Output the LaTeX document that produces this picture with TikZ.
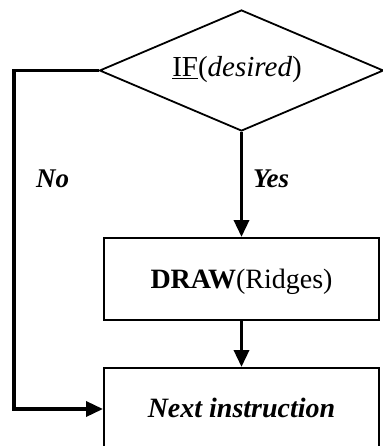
\documentclass[tikz,border=0pt]{standalone}
\usepackage{fontspec}
\setmainfont{Liberation Serif}
\usetikzlibrary{shapes.geometric,arrows.meta}
\begin{document}
\begin{tikzpicture}[x=1pt,y=-1pt,
  decision/.style={diamond,draw,line width=1.8pt,minimum width=284pt,minimum height=121pt,inner sep=0pt},
  stepbox/.style={rectangle,draw,line width=2pt,inner sep=0pt,minimum width=275pt,minimum height=82pt},
  lbl/.style={font=\fontsize{28}{32}\selectfont,inner sep=0pt,anchor=base},
  branch/.style={font=\fontsize{27}{31}\selectfont\bfseries\itshape,inner sep=0pt,anchor=base west},
  flow/.style={line width=3.5pt,-{Triangle[length=17pt,width=15pt]}},
]
\useasboundingbox (0,0) rectangle (382,446);

% decision and the two process boxes
\node[decision] (dec) at (241.5,70.5) {};
\node[lbl,font=\fontsize{29}{33}\selectfont] (dectxt) at (237,77) {\underline{IF}(\textit{desired})};

\node[stepbox] (drawbox) at (241.5,279) {};
\node[lbl] (drawtxt) at (241.5,288) {\textbf{DRAW}(Ridges)};

\node[stepbox] (next) at (241.5,409) {};
\node[lbl] (nexttxt) at (241.5,417) {\textbf{\textit{Next instruction}}};

% branch labels
\node[branch] (no) at (36,188) {No};
\node[branch] (yes) at (253,188) {Yes};

% connectors
\coordinate (corner) at (14,70.5);
\draw[flow] (dec.south) -- (drawbox.north);
\draw[flow] (drawbox.south) -- (next.north);
\draw[flow] (dec.west) -- (corner) |- (next.west);
\end{tikzpicture}
\end{document}
